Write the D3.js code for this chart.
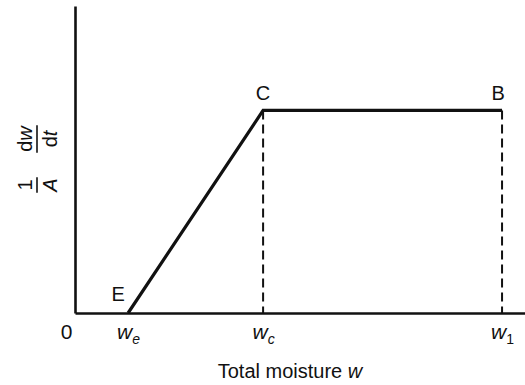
<!DOCTYPE html>
<html>
<head>
<meta charset="utf-8">
<script src="https://cdn.jsdelivr.net/npm/d3@7"></script>
<style>
  body { margin: 0; background: #fff; }
  svg text { font-family: "Liberation Sans", Arial, sans-serif; fill: #111; }
</style>
</head>
<body>
<div id="chart"></div>
<script>
// drying-rate curve: moisture positions (fraction of axis) and rate
const pointNames = ["E", "C", "B"];
const moisture = [0.118, 0.418, 0.949];
const rate = [0, 0.66, 0.66];
const tickValues = [0, 0.118, 0.418, 0.949];
const tickSubs = ["", "e", "c", "1"];

const width = 525, height = 385;
const x = d3.scaleLinear().domain([0, 1]).range([75, 525]);
const y = d3.scaleLinear().domain([0, 1]).range([313, 6]);

const svg = d3.select("#chart").append("svg")
  .attr("width", width)
  .attr("height", height);

// axes
const xAxis = svg.append("g")
  .attr("transform", `translate(0,${y(0)})`)
  .call(d3.axisBottom(x).tickValues(tickValues).tickSize(0).tickSizeOuter(0).tickFormat(""));
xAxis.select(".domain").attr("stroke", "#111").attr("stroke-width", 2.6);

const yAxis = svg.append("g")
  .attr("transform", `translate(${x(0)},0)`)
  .call(d3.axisLeft(y).tickValues([]).tickSizeOuter(0));
yAxis.select(".domain").attr("stroke", "#111").attr("stroke-width", 2.6);

// tick labels with subscripts
xAxis.selectAll(".tick text").each(function(d, i) {
  const t = d3.select(this).text(null)
    .attr("y", 26).attr("dy", null)
    .attr("font-size", 21);
  if (i === 0) {
    t.attr("dx", -9).text("0");
    return;
  }
  t.append("tspan").attr("font-style", "italic").text("w");
  t.append("tspan")
    .attr("font-size", 14)
    .attr("font-style", i === 3 ? "normal" : "italic")
    .attr("dy", 5)
    .text(tickSubs[i]);
});

// dashed drops from C and B
svg.append("g").selectAll("line")
  .data([1, 2])
  .join("line")
  .attr("x1", i => x(moisture[i]))
  .attr("x2", i => x(moisture[i]))
  .attr("y1", i => y(rate[i]))
  .attr("y2", y(0))
  .attr("stroke", "#111")
  .attr("stroke-width", 2)
  .attr("stroke-dasharray", "9,5");

// rate curve
const line = d3.line().x((d, i) => x(moisture[i])).y((d, i) => y(rate[i]));
svg.append("path")
  .attr("d", line(rate))
  .attr("fill", "none")
  .attr("stroke", "#111")
  .attr("stroke-width", 3.2)
  .attr("stroke-linejoin", "miter");

// point labels
svg.append("g").selectAll("text")
  .data(pointNames)
  .join("text")
  .attr("x", (d, i) => x(moisture[i]) + (i === 0 ? -10 : i === 2 ? -4 : 0))
  .attr("y", (d, i) => y(rate[i]) - (i === 0 ? 12 : 10))
  .attr("text-anchor", "middle")
  .attr("font-size", 20)
  .text(d => d);

// x title
const title = svg.append("text")
  .attr("x", 290)
  .attr("y", 378)
  .attr("text-anchor", "middle")
  .attr("font-size", 20);
title.append("tspan").text("Total moisture ");
title.append("tspan").attr("font-style", "italic").text("w");

// y title: 1/A dw/dt as stacked fractions, rotated
const yt = svg.append("g").attr("transform", "translate(37,160) rotate(-90)");
function fraction(g, cx, num, den, italicNum) {
  const n = g.append("text").attr("x", cx).attr("y", -5)
    .attr("text-anchor", "middle").attr("font-size", 20);
  n.append("tspan").text(num[0]);
  if (num[1]) n.append("tspan").attr("font-style", italicNum ? "italic" : "normal").text(num[1]);
  const dd = g.append("text").attr("x", cx).attr("y", 20)
    .attr("text-anchor", "middle").attr("font-size", 20);
  dd.append("tspan").attr("font-style", den[1] ? "normal" : "italic").text(den[0]);
  if (den[1]) dd.append("tspan").attr("font-style", "italic").text(den[1]);
  const w = Math.max(n.node().getComputedTextLength(), dd.node().getComputedTextLength());
  g.append("line")
    .attr("x1", cx - w / 2 - 1).attr("x2", cx + w / 2 + 1)
    .attr("y1", 0).attr("y2", 0)
    .attr("stroke", "#111").attr("stroke-width", 1.6);
}
fraction(yt, -25, ["1"], ["A"], false);
fraction(yt, 21, ["d", "w"], ["d", "t"], true);
</script>
</body>
</html>
